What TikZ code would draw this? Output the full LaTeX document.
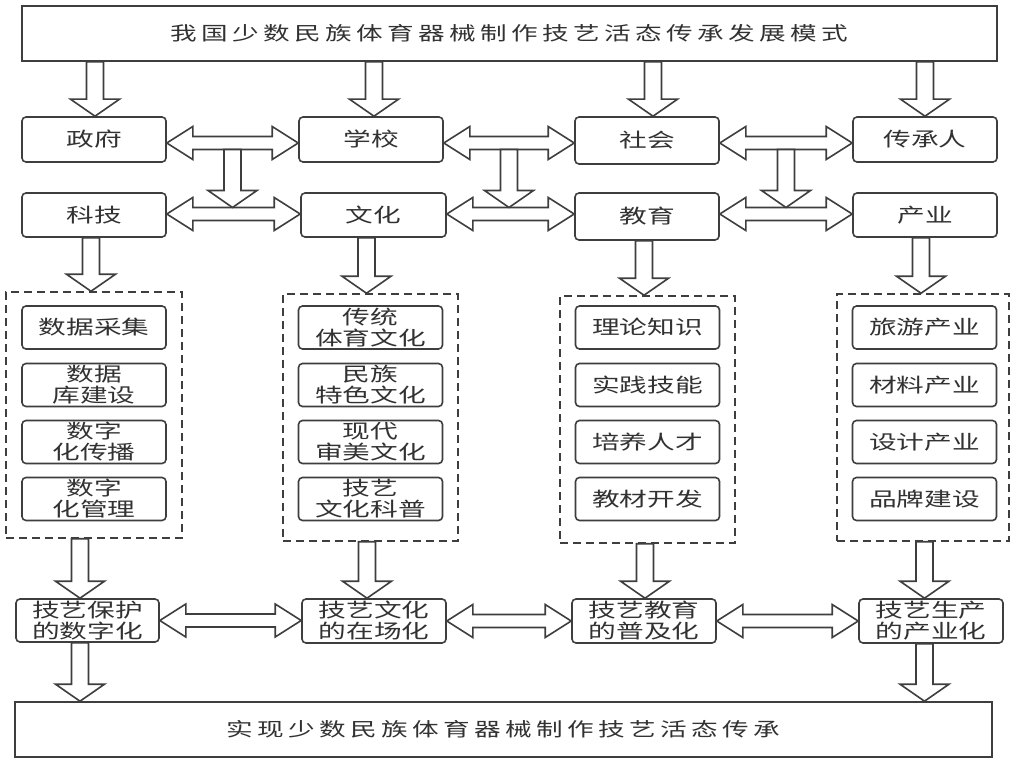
\documentclass[tikz,border=0pt]{standalone}
\usepackage{fontspec}
\setmainfont{Noto Sans CJK SC}[FakeStretch=1.42]
\newfontfamily\titlefont{Noto Sans CJK SC}[FakeStretch=1.4]
\usetikzlibrary{calc}
\definecolor{ink}{RGB}{62,62,62}
\definecolor{txt}{RGB}{50,50,50}
\def\spreadit#1{\ifx#1\relax\else#1\hspace{4.4pt}\expandafter\spreadit\fi}
\newcommand\varr[2]{\draw[blk] let \p1=(#1), \p2=(#2) in
 (\x1-8.5pt,\y1) -- (\x1-8.5pt,\y2+17pt) -- (\x1-24.5pt,\y2+17pt) -- (\x1,\y2) -- (\x1+24.5pt,\y2+17pt) -- (\x1+8.5pt,\y2+17pt) -- (\x1+8.5pt,\y1) -- cycle;}
\newcommand\harr[2]{\draw[blk] let \p1=(#1), \p2=(#2) in
 (\x1,\y1) -- (\x1+26pt,\y1+16.5pt) -- (\x1+26pt,\y1+6.5pt) -- (\x2-26pt,\y1+6.5pt) -- (\x2-26pt,\y1+16.5pt) -- (\x2,\y1) -- (\x2-26pt,\y1-16.5pt) -- (\x2-26pt,\y1-6.5pt) -- (\x1+26pt,\y1-6.5pt) -- (\x1+26pt,\y1-16.5pt) -- cycle;}
\begin{document}
\begin{tikzpicture}[x=1pt,y=-1pt,
  blk/.style={draw=ink,line width=1.6pt,fill=white,line join=miter},
  bigbox/.style={draw=ink,line width=1.6pt,inner sep=0pt,text=txt,font=\titlefont\fontsize{19}{21}\selectfont},
  box/.style={draw=ink,line width=1.6pt,rounded corners=4pt,inner sep=0pt,minimum width=144pt,minimum height=45pt,text=txt,align=center,font=\fontsize{19.5}{21}\selectfont},
  sub/.style={box,minimum height=43pt},
  group/.style={draw=ink,line width=1.5pt,dash pattern=on 8pt off 5pt,inner sep=0pt}]
\fill[white] (0,0) rectangle (1011,759);
\useasboundingbox (0,0) rectangle (1011,759);
% title boxes
\node[bigbox,minimum width=975pt,minimum height=55pt] (top) at (509.5,33.5) {\spreadit 我国少数民族体育器械制作技艺活态传承发展模式\relax};
\node[bigbox,minimum width=977pt,minimum height=55pt] (bottom) at (503.5,729.5) {\spreadit 实现少数民族体育器械制作技艺活态传承\relax};
% row 1
\node[box] (gov) at (94,139.5) {政府};
\node[box] (school) at (371,139.5) {学校};
\node[box,minimum height=47pt] (society) at (647,140.5) {社会};
\node[box] (heir) at (925,139.5) {传承人};
% row 2
\node[box,minimum height=44pt] (tech) at (94,215) {科技};
\node[box,minimum height=44pt,minimum width=145pt] (cult) at (373.5,215) {文化};
\node[box,minimum height=47pt] (edu) at (647,216.5) {教育};
\node[box,minimum height=44pt] (ind) at (925,215) {产业};
% dashed groups
\node[group,minimum width=176pt,minimum height=246pt] (d1) at (94,415) {};
\node[group,minimum width=175pt,minimum height=247pt] (d2) at (370.5,417.5) {};
\node[group,minimum width=175pt,minimum height=247pt] (d3) at (647.5,419.5) {};
\node[group,minimum width=172pt,minimum height=247pt] (d4) at (923,417.5) {};
% group items
\node[sub] (a1) at (94,327.5) {数据采集};
\node[sub] (a2) at (94,385) {数据\\库建设};
\node[sub] (a3) at (94,442) {数字\\化传播};
\node[sub] (a4) at (94,499) {数字\\化管理};
\node[sub] (b1) at (370.5,327.5) {传统\\体育文化};
\node[sub] (b2) at (370.5,385) {民族\\特色文化};
\node[sub] (b3) at (370.5,442) {现代\\审美文化};
\node[sub] (b4) at (370.5,499) {技艺\\文化科普};
\node[sub] (c1) at (647.5,327.5) {理论知识};
\node[sub] (c2) at (647.5,385) {实践技能};
\node[sub] (c3) at (647.5,442) {培养人才};
\node[sub] (c4) at (647.5,499) {教材开发};
\node[sub] (e1) at (924.5,327.5) {旅游产业};
\node[sub] (e2) at (924.5,385) {材料产业};
\node[sub] (e3) at (924.5,442) {设计产业};
\node[sub] (e4) at (924.5,499) {品牌建设};
% result row
\node[sub,minimum width=143pt] (p1) at (87.5,620.5) {技艺保护\\的数字化};
\node[sub,minimum height=44pt] (p2) at (374,621) {技艺文化\\的在场化};
\node[sub,minimum height=44pt] (p3) at (644,621) {技艺教育\\的普及化};
\node[sub,minimum height=44pt] (p4) at (931,621) {技艺生产\\的产业化};
% helper coordinates
\coordinate (ra) at (0,143);
\coordinate (rb) at (0,214);
\coordinate (m1) at ($(gov.east)!0.5!(school.west)$);
\coordinate (m2) at ($(school.east)!0.5!(society.west)$);
\coordinate (m3) at ($(society.east)!0.5!(heir.west)$);
% top arrows
\varr{$(gov.north |- top.south)+(1,0)$}{gov.north}
\varr{$(school.north |- top.south)+(3,0)$}{school.north}
\varr{$(society.north |- top.south)+(6,0)$}{society.north}
\varr{heir.north |- top.south}{heir.north}
% horizontal double arrows
\harr{gov.east |- ra}{school.west |- ra}
\harr{school.east |- ra}{society.west |- ra}
\harr{society.east |- ra}{heir.west |- ra}
\harr{tech.east |- rb}{cult.west |- rb}
\harr{cult.east |- rb}{edu.west |- rb}
\harr{edu.east |- rb}{ind.west |- rb}
% verticals between rows
\varr{$(m1 |- ra)+(0,6.5)$}{$(m1 |- rb)+(0,-6.5)$}
\varr{$(m2 |- ra)+(0,6.5)$}{$(m2 |- rb)+(0,-6.5)$}
\varr{$(m3 |- ra)+(0,6.5)$}{$(m3 |- rb)+(0,-6.5)$}
% row 2 to groups
\varr{$(tech.south)+(-3,0)$}{d1.north}
\varr{$(cult.south)+(-7,0)$}{d2.north}
\varr{$(edu.south)+(-3,0)$}{d3.north}
\varr{$(ind.south)+(-4,0)$}{d4.north}
% groups to results
\varr{$(p1.north |- d1.south)+(-7.5,0)$}{p1.north}
\varr{$(p2.north |- d2.south)+(-7,0)$}{p2.north}
\varr{$(p3.north |- d3.south)+(1,0)$}{p3.north}
\varr{$(p4.north |- d4.south)+(-6.5,0)$}{p4.north}
% result row double arrows
\harr{p1.east}{p2.west}
\harr{p2.east}{p3.west}
\harr{p3.east}{p4.west}
% results to bottom
\varr{$(p1.south)+(-7.5,0)$}{bottom.north}
\varr{$(p4.south)+(-6.5,0)$}{bottom.north}
\end{tikzpicture}
\end{document}
